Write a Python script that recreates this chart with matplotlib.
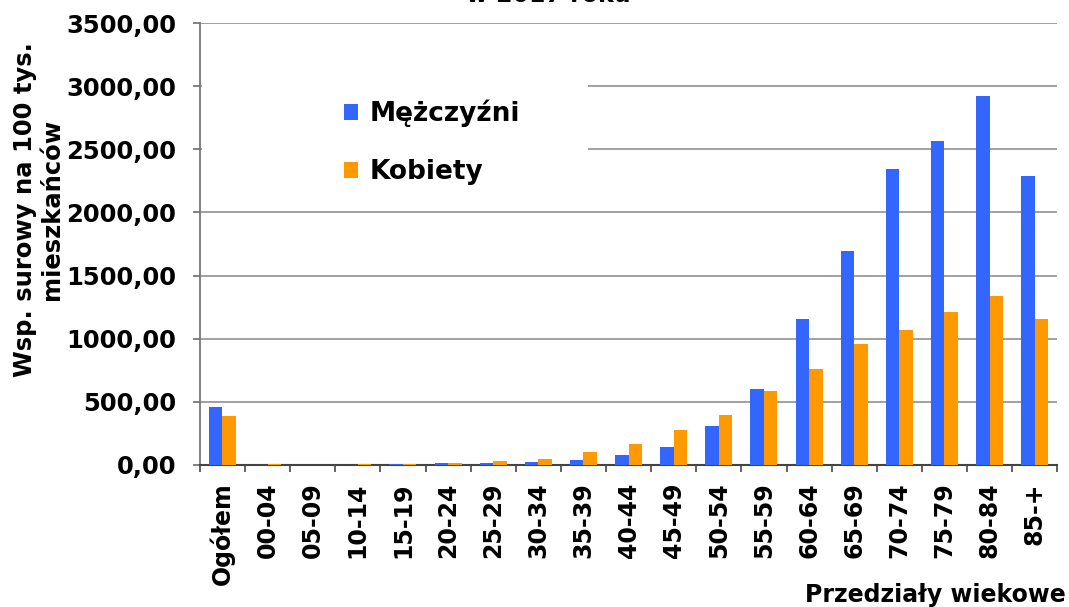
import numpy as np
import matplotlib
matplotlib.use("Agg")
import matplotlib.pyplot as plt
from matplotlib.patches import Rectangle
from matplotlib.ticker import FuncFormatter

# Age groups and crude rates per 100k inhabitants
categories = ["Ogółem", "00-04", "05-09", "10-14", "15-19", "20-24", "25-29",
              "30-34", "35-39", "40-44", "45-49", "50-54", "55-59", "60-64",
              "65-69", "70-74", "75-79", "80-84", "85-+"]
men = [460, 2, 2, 3, 8, 15, 18, 25, 40, 80, 146, 311, 604, 1157,
       1694, 2346, 2566, 2926, 2287]
women = [388, 6, 2, 6, 8, 15, 30, 50, 106, 168, 274, 399, 585, 763,
         957, 1069, 1210, 1338, 1157]

plt.rcParams['font.family'] = ['DejaVu Sans']
plt.rcParams['font.weight'] = 'bold'

fig = plt.figure(figsize=(10.69, 6.07), dpi=100)
ax = fig.add_axes([0.187, 0.234, 0.802, 0.728])

x = np.arange(len(categories))
w = 0.3
ax.bar(x - w / 2, men, width=w, color='#3366ff', label='Mężczyźni', zorder=3)
ax.bar(x + w / 2, women, width=w, color='#ff9900', label='Kobiety', zorder=3)

ax.set_xlim(-0.5, len(categories) - 0.5)
ax.set_ylim(0, 3500)
ax.set_yticks(np.arange(0, 3501, 500))
ax.yaxis.set_major_formatter(FuncFormatter(lambda v, p: f"{v:.2f}".replace('.', ',')))
ax.grid(axis='y', color='#999999', linewidth=1.3, zorder=0)

ax.set_xticks(x)
ax.set_xticklabels(categories, rotation=90, fontsize=17, fontweight='bold')
ax.set_xticks(np.arange(-0.5, len(categories)), minor=True)
ax.tick_params(axis='x', which='major', length=0, pad=12.5)
ax.tick_params(axis='x', which='minor', length=5, width=1.3, color='#555555')
ax.tick_params(axis='y', length=5, width=1.3, color='#777777', pad=12, labelsize=17.5)
for lab in ax.get_yticklabels():
    lab.set_fontweight('bold')

for s in ['top', 'right']:
    ax.spines[s].set_visible(False)
ax.spines['left'].set_color('#777777')
ax.spines['left'].set_linewidth(1.3)
ax.spines['bottom'].set_color('#444444')
ax.spines['bottom'].set_linewidth(1.5)

# white box behind the legend hides the grid lines
ax.add_patch(Rectangle((0.003, 0.6), 0.45, 0.33, transform=ax.transAxes,
                       facecolor='white', edgecolor='none', zorder=2))
leg = ax.legend(loc='upper left', bbox_to_anchor=(0.14, 0.88), frameon=False,
                prop={'size': 19, 'weight': 'bold'}, handlelength=0.55,
                handleheight=0.55, handletextpad=0.45, labelspacing=1.2)

fig.text(0.036, 0.655, "Wsp. surowy na 100 tys.\nmieszkańców", rotation=90,
         ha='center', va='center', fontsize=17.5, fontweight='bold',
         multialignment='center', linespacing=1.2)
fig.text(0.997, 0.008, "Przedziały wiekowe", ha='right', va='baseline',
         fontsize=17, fontweight='bold')
fig.text(0.513, 0.9967, "w 2017 roku", ha='center', va='baseline',
         fontsize=17, fontweight='bold')

fig.savefig("out.png", dpi=100)
